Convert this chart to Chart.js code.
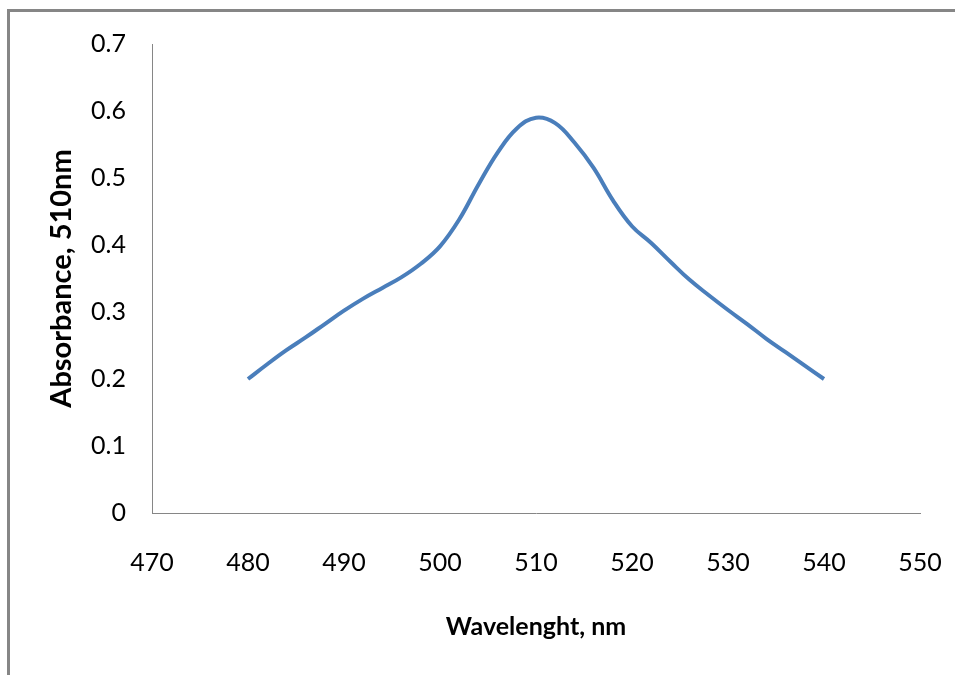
<!DOCTYPE html>
<html>
<head>
<meta charset="utf-8">
<script src="https://cdn.jsdelivr.net/npm/chart.js@4"></script>
<style>
  html, body { margin: 0; padding: 0; background: #fff; }
  #wrap { width: 955px; height: 675px; }
</style>
</head>
<body>
<div id="wrap"><canvas id="chart" width="955" height="675"></canvas></div>
<script>
// wavelength (nm) and absorbance
var wavelengths = [480, 482, 484, 486, 488, 490, 492, 494, 496, 498, 500, 502, 504, 506, 508, 510,
                   512, 514, 516, 518, 520, 522, 524, 526, 528, 530, 532, 534, 536, 538, 540];
var absorbance = [0.200, 0.222, 0.243, 0.262, 0.282, 0.302, 0.320, 0.336, 0.352, 0.372, 0.398, 0.438, 0.490, 0.538, 0.574, 0.590,
                  0.582, 0.553, 0.515, 0.467, 0.428, 0.403, 0.375, 0.348, 0.325, 0.303, 0.282, 0.260, 0.240, 0.220, 0.200];
var xTicks = [470, 480, 490, 500, 510, 520, 530, 540, 550];
var yTicks = ['0', '0.1', '0.2', '0.3', '0.4', '0.5', '0.6', '0.7'];

var points = wavelengths.map(function(w, i) { return { x: w, y: absorbance[i] }; });

// grey frame round the picture (left and top edges only, like the source)
var framePlugin = {
  id: 'frame',
  beforeDraw: function(chart) {
    var ctx = chart.ctx;
    ctx.save();
    ctx.strokeStyle = '#868686';
    ctx.lineWidth = 3;
    ctx.beginPath();
    ctx.moveTo(8.5, 675);
    ctx.lineTo(8.5, 10.5);
    ctx.lineTo(955, 10.5);
    ctx.stroke();
    ctx.restore();
  }
};

var tickFont = { family: 'Lato, sans-serif', size: 25 };

new Chart(document.getElementById('chart'), {
  type: 'line',
  data: {
    datasets: [{
      label: 'Absorbance',
      data: points,
      borderColor: '#4a7ebb',
      borderWidth: 4,
      pointRadius: 0,
      tension: 0.4,
      fill: false
    }]
  },
  plugins: [framePlugin],
  options: {
    responsive: false,
    animation: false,
    layout: { padding: { top: 44, right: 35, left: 0, bottom: 0 } },
    plugins: {
      legend: { display: false },
      tooltip: { enabled: false }
    },
    scales: {
      x: {
        type: 'linear',
        min: 470,
        max: 550,
        afterFit: function(scale) {
          scale.height = 162;
          scale.paddingLeft = 0;
          scale.paddingRight = 0;
        },
        afterBuildTicks: function(scale) {
          scale.ticks = xTicks.map(function(v) { return { value: v }; });
        },
        ticks: { font: tickFont, color: '#000', padding: 35, maxRotation: 0, autoSkip: false },
        grid: { drawOnChartArea: false, drawTicks: false },
        border: { color: '#868686', width: 1 },
        title: {
          display: true, text: 'Wavelenght, nm', color: '#000',
          font: { family: 'Lato, sans-serif', size: 25, weight: 'bold' },
          padding: { top: 0, bottom: 33 }
        }
      },
      y: {
        min: 0,
        max: 0.7,
        afterFit: function(scale) {
          scale.width = 152;
          scale.paddingTop = 0;
          scale.paddingBottom = 0;
        },
        afterBuildTicks: function(scale) {
          scale.ticks = yTicks.map(function(t, i) { return { value: i / 10 }; });
        },
        ticks: {
          font: tickFont,
          color: '#000',
          padding: 26,
          autoSkip: false,
          callback: function(v, i) { return yTicks[i]; }
        },
        grid: { drawOnChartArea: false, drawTicks: false },
        border: { color: '#868686', width: 1 },
        title: {
          display: true, text: 'Absorbance, 510nm', color: '#000',
          font: { family: 'Lato, sans-serif', size: 29, weight: 'bold' },
          padding: { top: 44, bottom: 0 }
        }
      }
    }
  }
});
</script>
</body>
</html>
